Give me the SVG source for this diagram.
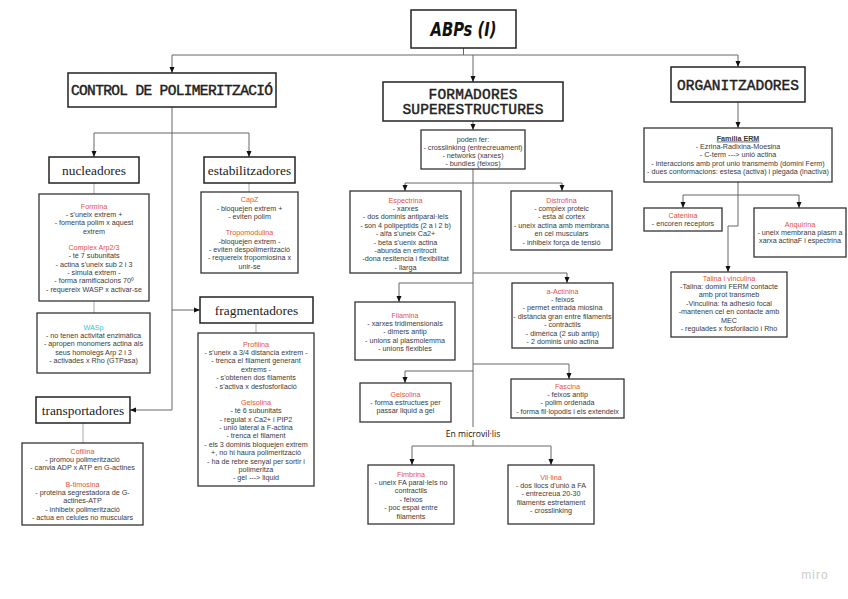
<svg xmlns="http://www.w3.org/2000/svg" width="848" height="599" viewBox="0 0 848 599">
<style>
.bg{fill:#fff}
.box{fill:#fff;stroke:#333;stroke-width:1.3}
.hbox{fill:#fff;stroke:#222;stroke-width:1.5}
.t{font-family:"Liberation Sans",Arial,sans-serif;font-size:7.2px;fill:#3a3a3a;text-anchor:middle}
.r{fill:#e5533c}
.c{fill:#2ec4d6}
.hm{font-family:"Liberation Mono","Courier New",monospace;font-weight:normal;font-size:14.5px;text-anchor:middle;fill:#222;stroke:#222;stroke-width:0.45}
.hs{font-family:"Liberation Serif","Times New Roman",serif;font-size:13.4px;text-anchor:middle;fill:#222}
.ln{fill:none;stroke:#666;stroke-width:1}
.lg{fill:none;stroke:#aaa;stroke-width:1}
.ar{marker-end:url(#ah)}
</style>
<defs>
<marker id="ah" markerUnits="userSpaceOnUse" markerWidth="6" markerHeight="6" refX="6" refY="3" orient="auto">
<path d="M0,0.5 L6,3 L0,5.5 z" fill="#111"/>
</marker>
</defs>
<rect class="bg" x="0" y="0" width="848" height="599"/>

<g id="connectors">
<path class="ln" d="M463.5,48 V55 M172,55 H738"/>
<path class="ln ar" d="M172,55 V73"/>
<path class="ln ar" d="M473,55 V82"/>
<path class="ln ar" d="M738,55 V67"/>
<path class="ln" d="M172,107 V410"/>
<path class="ln" d="M94,133 H249"/>
<path class="ln ar" d="M94,133 V157"/>
<path class="ln ar" d="M249,133 V157"/>
<path class="ln ar" d="M172,310 H200"/>
<path class="ln ar" d="M172,410 H130"/>
<path class="lg" d="M94,183 V194 M94,301 V313 M249,183 V192 M256,323 V333 M83,423 V443"/>
<path class="ln ar" d="M473,121 V130"/>
<path class="ln" d="M473,169 V427 M473,440 V446"/>
<path class="ln" d="M405,183 H562"/>
<path class="ln ar" d="M405,183 V191"/>
<path class="ln ar" d="M562,183 V191"/>
<path class="ln ar" d="M473,273 H567 V283"/>
<path class="ln ar" d="M473,283 H399 V302"/>
<path class="ln ar" d="M473,364 H569 V379"/>
<path class="ln ar" d="M473,371 H405 V383"/>
<path class="ln" d="M412,446 H551"/>
<path class="ln ar" d="M412,446 V465"/>
<path class="ln ar" d="M551,446 V465"/>
<path class="ln ar" d="M738,102 V128"/>
<path class="ln" d="M738,182 V226 H728"/>
<path class="ln ar" d="M728,226 V272"/>
<path class="ln" d="M683,195 H799"/>
<path class="ln ar" d="M683,195 V208"/>
<path class="ln ar" d="M799,195 V208"/>
</g>

<g id="title">
<rect class="hbox" x="411" y="10" width="105" height="38"/>
<text x="463.5" y="36" font-family="DejaVu Sans, sans-serif" font-weight="bold" font-style="italic" font-size="19" fill="#111" text-anchor="middle" textLength="66" lengthAdjust="spacingAndGlyphs">ABPs (I)</text>
</g>

<g id="control">
<rect class="hbox" x="68" y="73" width="208" height="34"/>
<text class="hm" x="172" y="95" textLength="202" lengthAdjust="spacing">CONTROL DE POLIMERITZACIÓ</text>
</g>

<g id="nucleadores">
<rect class="hbox" x="49" y="157" width="90" height="26"/>
<text class="hs" x="94" y="174.5">nucleadores</text>
</g>

<g id="estabilitzadores">
<rect class="hbox" x="204" y="157" width="91" height="26"/>
<text class="hs" x="249.5" y="174.5">estabilitzadores</text>
</g>

<g id="fragmentadores">
<rect class="hbox" x="200" y="297" width="113" height="26"/>
<text class="hs" x="256.5" y="314.5">fragmentadores</text>
</g>

<g id="transportadores">
<rect class="hbox" x="36" y="397" width="94" height="26"/>
<text class="hs" x="83" y="414.5">transportadores</text>
</g>

<g id="formina">
<rect class="box" x="39" y="194" width="110" height="107"/>
<text class="t r" x="94" y="208.5">Formina</text>
<text class="t" x="94" y="216.9">- s'uneix extrem +</text>
<text class="t" x="94" y="225.3">- fomenta polim x aquest</text>
<text class="t" x="94" y="233.7">extrem</text>
<text class="t r" x="94" y="249.7">Complex Arp2/3</text>
<text class="t" x="94" y="258.1">- té 7 subunitats</text>
<text class="t" x="94" y="266.5">- actina s'uneix sub 2 i 3</text>
<text class="t" x="94" y="274.9">- simula extrem -</text>
<text class="t" x="94" y="283.3">- forma ramificacions 70º</text>
<text class="t" x="94" y="291.7">- requereix WASP x activar-se</text>
</g>

<g id="wasp">
<rect class="box" x="37" y="313" width="113" height="60"/>
<text class="t c" x="93.5" y="329.6">WASp</text>
<text class="t" x="93.5" y="338">- no tenen activitat enzimàtica</text>
<text class="t" x="93.5" y="346.4">- apropen monomers actina als</text>
<text class="t" x="93.5" y="354.8">seus homolegs Arp 2 i 3</text>
<text class="t" x="93.5" y="363.2">- activades x Rho (GTPasa)</text>
</g>

<g id="capz">
<rect class="box" x="201" y="192" width="97" height="81"/>
<text class="t r" x="249.5" y="202.2">CapZ</text>
<text class="t" x="249.5" y="210.6">- bloquejen extrem +</text>
<text class="t" x="249.5" y="219">- eviten polim</text>
<text class="t r" x="249.5" y="235.2">Tropomodulina</text>
<text class="t" x="249.5" y="243.6">-bloquejen extrem -</text>
<text class="t" x="249.5" y="252">- eviten despolimerització</text>
<text class="t" x="249.5" y="260.4">- requereix tropomiosina x</text>
<text class="t" x="249.5" y="268.8">unir-se</text>
</g>

<g id="profilina">
<rect class="box" x="198" y="333" width="116" height="153"/>
<text class="t r" x="256" y="346.6">Profilina</text>
<text class="t" x="256" y="355">- s'uneix a 3/4 distancia extrem -</text>
<text class="t" x="256" y="363.4">- trenca el filament generant</text>
<text class="t" x="256" y="371.8">extrems -</text>
<text class="t" x="256" y="380.2">- s'obtenen dos filaments</text>
<text class="t" x="256" y="388.6">- s'activa x desfosforilació</text>
<text class="t r" x="256" y="404.8">Gelsolina</text>
<text class="t" x="256" y="413.2">- té 6 subunitats</text>
<text class="t" x="256" y="421.6">- regulat x Ca2+ i PIP2</text>
<text class="t" x="256" y="430">- unió lateral a F-actina</text>
<text class="t" x="256" y="438.4">- trenca el filament</text>
<text class="t" x="256" y="446.8">- els 3 dominis bloquejen extrem</text>
<text class="t" x="256" y="455.2">+, no hi haura polimerització</text>
<text class="t" x="256" y="463.6">- ha de rebre senyal per sortir i</text>
<text class="t" x="256" y="472">polimeritza</text>
<text class="t" x="256" y="480.4">- gel ---&gt; liquid</text>
</g>

<g id="cofilina">
<rect class="box" x="22" y="443" width="121" height="82"/>
<text class="t r" x="82.5" y="453.6">Cofilina</text>
<text class="t" x="82.5" y="462">- promou polimerització</text>
<text class="t" x="82.5" y="470.4">- canvia ADP x ATP en G-actines</text>
<text class="t r" x="82.5" y="486.6">B-timosina</text>
<text class="t" x="82.5" y="495">- proteina segrestadora de G-</text>
<text class="t" x="82.5" y="503.4">actines-ATP</text>
<text class="t" x="82.5" y="511.8">- inhibeix polimerització</text>
<text class="t" x="82.5" y="520.2">- actua en celules no musculars</text>
</g>

<g id="formadores">
<rect class="hbox" x="383" y="82" width="180" height="39"/>
<text class="hm" x="473" y="99" textLength="89" lengthAdjust="spacing">FORMADORES</text>
<text class="hm" x="473" y="114" textLength="141" lengthAdjust="spacing">SUPERESTRUCTURES</text>
</g>

<g id="poden">
<rect class="box" x="421" y="130" width="104" height="39"/>
<text class="t" x="473" y="141.8">poden fer:</text>
<text class="t" x="473" y="149.8">- crosslinking (entrecreuament)</text>
<text class="t" x="473" y="157.8">- networks (xarxes)</text>
<text class="t" x="473" y="165.6">- bundles (feixos)</text>
</g>

<g id="espectrina">
<rect class="box" x="350" y="191" width="111" height="82"/>
<text class="t r" x="405.5" y="202.6">Espectrina</text>
<text class="t" x="405.5" y="211">- xarxes</text>
<text class="t" x="405.5" y="219.4">- dos dominis antiparal·lels</text>
<text class="t" x="405.5" y="227.8">- son 4 polipeptids (2 a i 2 b)</text>
<text class="t" x="405.5" y="236.2">- alfa s'uneix Ca2+</text>
<text class="t" x="405.5" y="244.6">- beta s'uenix actina</text>
<text class="t" x="405.5" y="253">-abunda en eritrocit</text>
<text class="t" x="405.5" y="261.4">-dona resitencia i flexibilitat</text>
<text class="t" x="405.5" y="269.8">- llarga</text>
</g>

<g id="distrofina">
<rect class="box" x="511" y="191" width="101" height="59"/>
<text class="t r" x="561.5" y="202.6">Distrofina</text>
<text class="t" x="561.5" y="211">- complex proteic</text>
<text class="t" x="561.5" y="219.4">- esta al cortex</text>
<text class="t" x="561.5" y="227.8">- uneix actina amb membrana</text>
<text class="t" x="561.5" y="236.2">en cel musculars</text>
<text class="t" x="561.5" y="244.6">- inhibeix força de tensió</text>
</g>

<g id="aactinina">
<rect class="box" x="512" y="283" width="101" height="65"/>
<text class="t r" x="562.5" y="293.6">a-Actinina</text>
<text class="t" x="562.5" y="302">- feixos</text>
<text class="t" x="562.5" y="310.4">- permet entrada miosina</text>
<text class="t" x="562.5" y="318.8">- distància gran entre filaments</text>
<text class="t" x="562.5" y="327.2">- contràctils</text>
<text class="t" x="562.5" y="335.6">- dimèrica (2 sub antip)</text>
<text class="t" x="562.5" y="344">- 2 dominis unio actina</text>
</g>

<g id="filamina">
<rect class="box" x="355" y="302" width="100" height="58"/>
<text class="t r" x="405" y="317.6">Filamina</text>
<text class="t" x="405" y="326">- xarxes tridimensionals</text>
<text class="t" x="405" y="334.4">- dimers antip</text>
<text class="t" x="405" y="342.8">- unions al plasmolemma</text>
<text class="t" x="405" y="351.2">- unions flexibles</text>
</g>

<g id="fascina">
<rect class="box" x="511" y="379" width="113" height="39"/>
<text class="t r" x="567.5" y="388.6">Fascina</text>
<text class="t" x="567.5" y="397">- feixos antip</text>
<text class="t" x="567.5" y="405.4">- polim ordenada</text>
<text class="t" x="567.5" y="413.8">- forma fil·lopodis i els extendeix</text>
</g>

<g id="gelsolina">
<rect class="box" x="360" y="383" width="91" height="39"/>
<text class="t r" x="405.5" y="396.6">Gelsolina</text>
<text class="t" x="405.5" y="405">- forma estructues per</text>
<text class="t" x="405.5" y="413.4">passar liquid a gel</text>
</g>

<g id="microvillis">
<text x="473" y="436.5" font-family="Open Sans, DejaVu Sans, sans-serif" font-size="8.6" fill="#111" text-anchor="middle">En microvil·lis</text>
</g>

<g id="fimbrina">
<rect class="box" x="368" y="465" width="86" height="59"/>
<text class="t r" x="411" y="476.6">Fimbrina</text>
<text class="t" x="411" y="485">- uneix FA paral·lels no</text>
<text class="t" x="411" y="493.4">contractils</text>
<text class="t" x="411" y="501.8">- feixos</text>
<text class="t" x="411" y="510.2">- poc espai entre</text>
<text class="t" x="411" y="518.6">filaments</text>
</g>

<g id="villina">
<rect class="box" x="508" y="465" width="86" height="59"/>
<text class="t r" x="551" y="479.6">Vil·lina</text>
<text class="t" x="551" y="488">- dos llocs d'unió a FA</text>
<text class="t" x="551" y="496.4">- entrecreua 20-30</text>
<text class="t" x="551" y="504.8">filaments estretament</text>
<text class="t" x="551" y="513.2">- crosslinking</text>
</g>

<g id="organitzadores">
<rect class="hbox" x="671" y="67" width="134" height="35"/>
<text class="hm" x="738" y="89.5" textLength="122" lengthAdjust="spacing">ORGANITZADORES</text>
</g>

<g id="erm">
<rect class="box" x="644" y="128" width="188" height="54"/>
<text class="t" x="738" y="140.6" font-weight="bold" text-decoration="underline" fill="#222">Familia ERM</text>
<text class="t" x="738" y="149">- Ezrina-Radixina-Moesina</text>
<text class="t" x="738" y="157.4">- C-term ---&gt; unió actina</text>
<text class="t" x="738" y="165.8">- interaccions amb prot unio transmemb (domini Ferm)</text>
<text class="t" x="738" y="174.2">- dues conformacions: estesa (activa) i plegada (inactiva)</text>
</g>

<g id="catenina">
<rect class="box" x="644" y="208" width="78" height="23"/>
<text class="t r" x="683" y="217.6">Catenina</text>
<text class="t" x="683" y="226">- encoren receptors</text>
</g>

<g id="anquirina">
<rect class="box" x="754" y="208" width="92" height="49"/>
<text class="t r" x="800" y="226.6">Anquirina</text>
<text class="t" x="800" y="235">- uneix membrana plasm a</text>
<text class="t" x="800" y="243.4">xarxa actinaF i espectrina</text>
</g>

<g id="talina">
<rect class="box" x="671" y="272" width="116" height="65"/>
<text class="t r" x="729" y="280.6">Talina i vinculina</text>
<text class="t" x="729" y="289">-Talina:  domini FERM contacte</text>
<text class="t" x="729" y="297.4">amb prot transmeb</text>
<text class="t" x="729" y="305.8">-Vinculina: fa adhesió focal</text>
<text class="t" x="729" y="314.2">-mantenen cel en contacte amb</text>
<text class="t" x="729" y="322.6">MEC</text>
<text class="t" x="729" y="331">- regulades x fosforilació i Rho</text>
</g>

<text x="815" y="579" font-family="Liberation Sans, Arial, sans-serif" font-size="12" fill="#cccccc" text-anchor="middle" letter-spacing="1">miro</text>
</svg>
